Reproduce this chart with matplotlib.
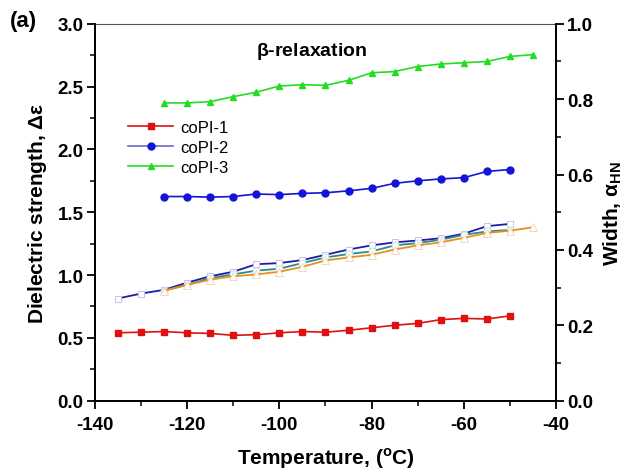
import matplotlib
matplotlib.use('agg')
import matplotlib.pyplot as plt
from matplotlib.ticker import MultipleLocator

plt.rcParams['font.family'] = ['Liberation Sans', 'DejaVu Sans']
plt.rcParams['mathtext.fontset'] = 'custom'
plt.rcParams['mathtext.rm'] = 'Liberation Sans'
plt.rcParams['mathtext.bf'] = 'Liberation Sans:bold'

# dielectric strength (left axis)
T1 = [-135, -130, -125, -120, -115, -110, -105, -100, -95, -90, -85, -80, -75, -70, -65, -60, -55, -50]
de1 = [0.54, 0.545, 0.55, 0.54, 0.535, 0.52, 0.525, 0.54, 0.55, 0.545, 0.56, 0.58, 0.60, 0.615, 0.645, 0.655, 0.65, 0.675]
T2 = [-125, -120, -115, -110, -105, -100, -95, -90, -85, -80, -75, -70, -65, -60, -55, -50]
de2 = [1.625, 1.625, 1.62, 1.625, 1.645, 1.64, 1.65, 1.655, 1.67, 1.69, 1.73, 1.75, 1.765, 1.775, 1.825, 1.84]
T3 = [-125, -120, -115, -110, -105, -100, -95, -90, -85, -80, -75, -70, -65, -60, -55, -50, -45]
de3 = [2.37, 2.37, 2.38, 2.42, 2.455, 2.505, 2.515, 2.51, 2.55, 2.61, 2.62, 2.66, 2.68, 2.69, 2.70, 2.74, 2.755]

# width alpha_HN (right axis)
Tw1 = [-135, -130, -125, -120, -115, -110, -105, -100, -95, -90, -85, -80, -75, -70, -65, -60, -55, -50]
aw1 = [0.271, 0.284, 0.294, 0.313, 0.330, 0.342, 0.362, 0.365, 0.373, 0.387, 0.401, 0.412, 0.420, 0.425, 0.431, 0.443, 0.463, 0.469]
Tw2 = [-125, -120, -115, -110, -105, -100, -95, -90, -85, -80, -75, -70, -65, -60, -55, -50]
aw2 = [0.292, 0.307, 0.325, 0.335, 0.345, 0.350, 0.365, 0.380, 0.389, 0.396, 0.412, 0.418, 0.427, 0.440, 0.449, 0.453]
Tw3 = [-125, -120, -115, -110, -105, -100, -95, -90, -85, -80, -75, -70, -65, -60, -55, -50, -45]
aw3 = [0.292, 0.307, 0.321, 0.330, 0.335, 0.342, 0.355, 0.372, 0.380, 0.387, 0.401, 0.412, 0.420, 0.432, 0.445, 0.451, 0.460]

fig = plt.figure(figsize=(6.4, 4.77), dpi=100)
ax = fig.add_axes([0.148, 0.158, 0.721, 0.79])
ax2 = ax.twinx()

ax.plot(T1, de1, '-s', color='#e01010', ms=4.5, lw=1.2, label='coPI-1')
ax.plot(T2, de2, '-o', color='#1414d8', ms=5, lw=1.2, mec='#1414d8', label='coPI-2')
ax.plot(T3, de3, '-^', color='#22dd22', ms=5, lw=1.2, label='coPI-3')
# legend line for coPI-2 is lighter than the data line
leg = ax.legend(loc='upper left', bbox_to_anchor=(0.04, 0.785), frameon=False,
                fontsize=12, handlelength=2.7, handletextpad=0.4, labelspacing=0.3)
leg.get_lines()[1].set_color('#6a6ad0')
leg.get_lines()[1].set_markerfacecolor('#1414d8')
leg.get_lines()[1].set_markeredgecolor('#1414d8')

ax2.plot(Tw1, aw1, '-s', color='#1c1caa', lw=1.3, ms=5, mfc='white', mec='#c4c4e4', mew=0.7)
ax2.plot(Tw2, aw2, '-o', color='#2b8c8c', lw=1.3, ms=5, mfc='white', mec='#c8e0e0', mew=0.7)
ax2.plot(Tw3, aw3, '-^', color='#e8901e', lw=1.3, ms=5.5, mfc='white', mec='#f2d8b8', mew=0.7)

ax.set_xlim(-140, -40)
ax.set_ylim(0, 3.0)
ax2.set_ylim(0, 1.0)
ax.xaxis.set_major_locator(MultipleLocator(20))
ax.xaxis.set_minor_locator(MultipleLocator(10))
ax.yaxis.set_major_locator(MultipleLocator(0.5))
ax.yaxis.set_minor_locator(MultipleLocator(0.25))
ax2.yaxis.set_major_locator(MultipleLocator(0.2))
ax2.yaxis.set_minor_locator(MultipleLocator(0.1))
ax.xaxis.set_major_formatter(matplotlib.ticker.FuncFormatter(lambda v, p: '%d' % v))
ax.yaxis.set_major_formatter(matplotlib.ticker.FormatStrFormatter('%.1f'))
ax2.yaxis.set_major_formatter(matplotlib.ticker.FormatStrFormatter('%.1f'))

for a in (ax, ax2):
    a.tick_params(which='major', direction='out', length=6, width=1.3, labelsize=13.5, pad=2)
    a.tick_params(which='minor', direction='out', length=3.5, width=1.1)
    for lab in a.get_xticklabels() + a.get_yticklabels():
        lab.set_fontweight('bold')
    for s in a.spines.values():
        s.set_linewidth(1.3)
ax.tick_params(axis='x', which='major', pad=5)
ax.spines['top'].set_linewidth(0.8)
ax.spines['top'].set_color('#555555')
ax2.spines['top'].set_visible(False)

ax.set_xlabel(r'Temperature, ($^{\mathregular{o}}$C)', fontsize=15, fontweight='bold', labelpad=9)
ax.set_ylabel(r'Dielectric strength, $\mathregular{\Delta\varepsilon}$', fontsize=15, fontweight='bold', labelpad=6)
ax2.set_ylabel(r'Width, $\mathregular{\alpha_{HN}}$', fontsize=15, fontweight='bold', labelpad=6)

ax.text(0.47, 0.93, r'$\mathbf{\beta}$-relaxation', transform=ax.transAxes, ha='center', va='center',
        fontsize=14, fontweight='bold')
fig.text(0.015, 0.955, '(a)', fontsize=16, fontweight='bold', ha='left', va='center')

fig.savefig('out.png', dpi=100)
